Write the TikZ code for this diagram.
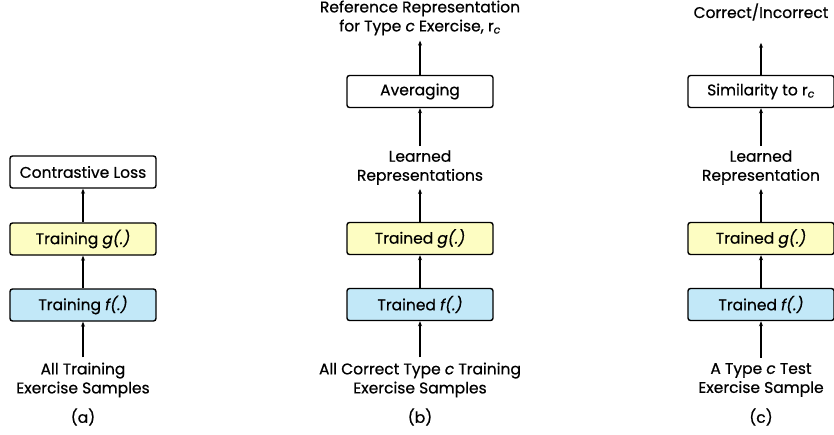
\documentclass[tikz,border=0pt]{standalone}
\usepackage{fontspec}
\setmainfont{Poppins}[FakeBold=0.6]
\usetikzlibrary{arrows.meta}
\definecolor{boxyellow}{HTML}{FDFDC2}
\definecolor{boxblue}{HTML}{C2E8F8}
\begin{document}
\begin{tikzpicture}[x=1pt,y=-1pt,
  font=\fontsize{15.5}{19}\selectfont,
  stagebox/.style={draw=black,line width=1.4pt,rounded corners=2.5pt,minimum width=146pt,minimum height=32pt,inner sep=0pt,fill=white},
  ybox/.style={stagebox,fill=boxyellow},
  bbox/.style={stagebox,fill=boxblue},
  lbl/.style={align=center,inner sep=0pt},
  flow/.style={-{Stealth[length=5pt,width=4pt]},line width=1.4pt}
]
\useasboundingbox (0,0) rectangle (834,434);
% panel (a)
\node[stagebox] (aloss) at (83,172) {Contrastive Loss};
\node[ybox] (ag) at (83,239) {Training \textit{g(.)}};
\node[bbox] (af) at (83,305) {Training \textit{f(.)}};
\node[lbl] (ain) at (83,380) {All Training\\Exercise Samples};
\node[lbl] (acap) at (83,417) {(a)};
\draw[flow] (ain.north) ++(0,-5) coordinate (ainT) (ainT) -- (af.south);
\draw[flow] (af.north) -- (ag.south);
\draw[flow] (ag.north) -- (aloss.south);
% panel (b)
\node[lbl] (bout) at (420,18) {Reference Representation\\for Type \textit{c} Exercise, r\textsubscript{\textit{c}}};
\node[stagebox] (bavg) at (420,91.5) {Averaging};
\node[lbl] (brep) at (420,167.5) {Learned\\Representations};
\node[ybox] (bg) at (420,238.5) {Trained \textit{g(.)}};
\node[bbox] (bf) at (420,304.5) {Trained \textit{f(.)}};
\node[lbl] (bin) at (420,380) {All Correct Type \textit{c} Training\\Exercise Samples};
\node[lbl] (bcap) at (420,417) {(b)};
\draw[flow] (bin.north) ++(0,-5) coordinate (binT) (binT) -- (bf.south);
\draw[flow] (bf.north) -- (bg.south);
\draw[flow] (bg.north) -- ([yshift=-4pt]brep.south);
\draw[flow] ([yshift=4pt]brep.north) -- (bavg.south);
\draw[flow] (bavg.north) -- ([yshift=-5pt]bout.south);
% panel (c)
\node[lbl] (cout) at (761,12) {Correct/Incorrect};
\node[stagebox] (csim) at (761,91.5) {Similarity to r\textsubscript{\textit{c}}};
\node[lbl] (crep) at (761,167.5) {Learned\\Representation};
\node[ybox] (cg) at (761,238.5) {Trained \textit{g(.)}};
\node[bbox] (cf) at (761,304.5) {Trained \textit{f(.)}};
\node[lbl] (cin) at (761,380) {A Type \textit{c} Test\\Exercise Sample};
\node[lbl] (ccap) at (761,417) {(c)};
\draw[flow] (cin.north) ++(0,-5) coordinate (cinT) (cinT) -- (cf.south);
\draw[flow] (cf.north) -- (cg.south);
\draw[flow] (cg.north) -- ([yshift=-4pt]crep.south);
\draw[flow] ([yshift=4pt]crep.north) -- (csim.south);
\draw[flow] (csim.north) -- ([yshift=-22pt]cout.south);
\end{tikzpicture}
\end{document}
